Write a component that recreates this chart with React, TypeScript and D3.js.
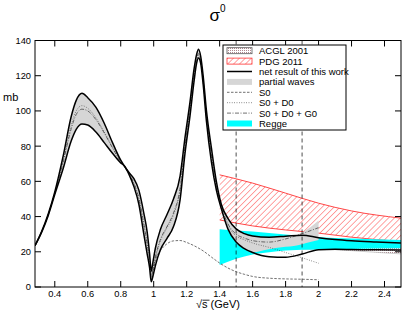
import * as d3 from 'd3';

// sqrt(s) grid for the net result band (GeV) and its edges (mb)
const bandX = [0.28, 0.32, 0.36, 0.40, 0.45, 0.50, 0.53, 0.565, 0.60, 0.65, 0.70, 0.75, 0.80, 0.82, 0.85, 0.88, 0.91, 0.94, 0.96, 0.975, 0.985, 0.995, 1.01, 1.04, 1.08, 1.12, 1.16, 1.19, 1.22, 1.245, 1.26, 1.272, 1.285, 1.30, 1.32, 1.35, 1.38, 1.41, 1.45, 1.5, 1.55, 1.6, 1.7, 1.8, 1.9, 2.0, 2.1, 2.2, 2.35, 2.5];
const bandHi = [23.5, 31.5, 41.5, 54, 74, 97, 106, 110, 107.5, 102, 93, 82, 72, 69, 65, 61.5, 55, 42, 31.5, 19, 9, 14, 22, 32.5, 41, 50, 63, 85, 105, 124, 132, 135, 131, 120, 100, 79, 60, 47, 39, 33, 30.3, 29, 28.3, 28.8, 29.4, 28, 27, 26.3, 25.6, 25];
const bandLo = [23.5, 31, 40.5, 52.5, 67, 83, 89.5, 92.6, 92, 88, 82, 76, 70.5, 69, 64, 57, 47, 30, 19, 11, 3, 6, 12, 21, 27.5, 34.3, 49.5, 76, 97, 117, 127, 130, 127, 115, 94, 71, 55, 44.5, 33, 25.5, 21.8, 19.6, 17.2, 16.9, 18.7, 21.2, 21.4, 21.3, 21.1, 21];

// S0+D0+G0 and S0+D0 run on bandX up to 2.0 GeV
const s0d0g0 = [23.5, 31.2, 41, 53.2, 70.5, 90, 98, 101, 100, 95, 87.5, 79, 71.2, 69, 64.5, 59, 50.5, 36, 25, 15, 6, 10, 17, 26.8, 34.2, 42, 56, 80, 101, 120.5, 129.5, 132.5, 129, 117.5, 97, 75, 57.5, 45.8, 36, 30, 27.8, 26.3, 25.5, 27.3, 30.3, 33.7];
const s0d0 = [23.5, 31.3, 41.2, 53.5, 71.5, 92, 100, 103, 101.5, 96, 88, 79.5, 71.5, 69, 64, 58.5, 50, 35, 24, 14, 6, 9.5, 16, 26, 33.5, 41, 55, 79, 100, 119.5, 128.5, 131.5, 128, 116.5, 96, 74, 57, 45, 35, 29, 26.8, 25, 22.5, 19.6, 16.6, 13.5];

const s0X = [0.99, 1.01, 1.04, 1.08, 1.12, 1.16, 1.2, 1.25, 1.3, 1.35, 1.4, 1.45, 1.5, 1.55, 1.6, 1.7, 1.8, 1.9, 2.0];
const s0Y = [5, 15, 20.5, 24.5, 26.2, 26.4, 25.3, 23.2, 20.5, 17, 13.6, 10.8, 8.7, 7.2, 6.0, 5.0, 4.6, 4.4, 4.1];

// partial-wave band above 1.4 GeV
const pwX = [1.41, 1.45, 1.5, 1.55, 1.6, 1.7, 1.8, 1.85, 1.9, 1.95, 2.0];
const pwHi = [47, 39, 33, 30.3, 29, 28.3, 28.8, 29.2, 31, 34, 37.7];
const pwLo = [44.5, 33, 25.5, 21.8, 19.8, 21.5, 22.8, 23.3, 24.3, 25.5, 26.7];

const reggeX = [1.4, 1.5, 1.6, 1.7, 1.8, 2.0, 2.2, 2.5];
const reggeHi = [32.8, 32.1, 31.5, 30.6, 29.8, 28.3, 27.5, 26.7];
const reggeLo = [12.5, 16, 18.5, 19.8, 20.8, 21.3, 21.6, 22];

const pdgX = [1.4, 1.6, 1.8, 2.0, 2.2, 2.5];
const pdgHi = [63.7, 59, 53.3, 47.6, 43.2, 39.1];
const pdgLo = [38.1, 34.7, 32.4, 30.6, 28.3, 25.8];

const acglX = [1.9, 2.1, 2.3, 2.5];
const acglHi = [25, 24.5, 24, 23.5];
const acglLo = [21.5, 21.2, 20, 18.8];

const cutX = [1.5, 1.9];
const xTicks = [0.4, 0.6, 0.8, 1.0, 1.2, 1.4, 1.6, 1.8, 2.0, 2.2, 2.4];
const yTicks = [0, 20, 40, 60, 80, 100, 120, 140];
const legendLabels = ['ACGL 2001', 'PDG 2011', 'net result of this work', 'partial waves', 'S0', 'S0 + D0', 'S0 + D0 + G0', 'Regge'];

const FONT = '"Liberation Sans", Arial, sans-serif';
const RED = '#ff3333';

export default function App() {
  const left = 35, right = 401, top = 40.5, bottom = 287;
  const x = d3.scaleLinear().domain([0.28, 2.5]).range([left, right]);
  const y = d3.scaleLinear().domain([0, 140]).range([bottom, top]);

  const band = (xs: number[], hi: number[], lo: number[]) =>
    d3.area<number>()
      .x(d => x(xs[d]))
      .y0(d => y(lo[d]))
      .y1(d => y(hi[d]))
      .curve(d3.curveMonotoneX)(d3.range(xs.length)) || '';
  const line = (xs: number[], ys: number[]) =>
    d3.line<number>()
      .x(d => x(xs[d]))
      .y(d => y(ys[d]))
      .curve(d3.curveMonotoneX)(d3.range(ys.length)) || '';

  const cut = bandX.indexOf(1.45);
  const lowX = bandX.slice(0, cut + 1);

  const lx = 227, lw = 25, ly0 = 50.7, ldy = 10.4;

  return (
    <svg width={403} height={315} style={{ position: 'fixed', left: 0, top: 0, background: '#fff' }} fontFamily={FONT}>
      <defs>
        <pattern id="hatch" width="4.2" height="4.2" patternUnits="userSpaceOnUse" patternTransform="rotate(45)">
          <line x1="0" y1="0" x2="0" y2="4.2" stroke={RED} strokeWidth="0.9" />
        </pattern>
        <pattern id="dots" width="2" height="2" patternUnits="userSpaceOnUse">
          <rect width="1" height="1" fill="#b08890" />
        </pattern>
        <clipPath id="plot">
          <rect x={left} y={top} width={right - left} height={bottom - top} />
        </clipPath>
      </defs>

      <g clipPath="url(#plot)">
        <path d={band(acglX, acglHi, acglLo)} fill="url(#dots)" stroke="#999" strokeWidth={0.5} />
        <path d={band(pdgX, pdgHi, pdgLo)} fill="url(#hatch)" />
        <path d={line(pdgX, pdgHi)} fill="none" stroke={RED} strokeWidth={0.9} />
        <path d={line(pdgX, pdgLo)} fill="none" stroke={RED} strokeWidth={0.9} />
        <path d={band(reggeX, reggeHi, reggeLo)} fill="#00ffff" />
        <path d={band(lowX, bandHi, bandLo)} fill="#d6d6d6" />
        <path d={band(pwX, pwHi, pwLo)} fill="#d6d6d6" />
        <path d={line(bandX.slice(0, s0d0.length), s0d0)} fill="none" stroke="#333" strokeWidth={0.7} strokeDasharray="0.8 1.6" />
        <path d={line(bandX.slice(0, s0d0g0.length), s0d0g0)} fill="none" stroke="#333" strokeWidth={0.7} strokeDasharray="4 1.5 1 1.5" />
        <path d={line(s0X, s0Y)} fill="none" stroke="#333" strokeWidth={0.7} strokeDasharray="2.5 1.5" />
        {cutX.map(c => (
          <line key={c} x1={x(c)} x2={x(c)} y1={top} y2={bottom} stroke="#000" strokeWidth={0.7} strokeDasharray="4 3" />
        ))}
        <path d={line(bandX, bandHi)} fill="none" stroke="#000" strokeWidth={1.5} />
        <path d={line(bandX, bandLo)} fill="none" stroke="#000" strokeWidth={1.5} />
      </g>

      {/* frame and ticks */}
      <rect x={left} y={top} width={right - left} height={bottom - top} fill="none" stroke="#000" strokeWidth={1} />
      {xTicks.map(t => (
        <g key={t}>
          <line x1={x(t)} x2={x(t)} y1={bottom} y2={bottom - 6} stroke="#000" />
          <line x1={x(t)} x2={x(t)} y1={top} y2={top + 6} stroke="#000" />
          <text x={x(t)} y={297} fontSize={9.3} textAnchor="middle">{d3.format('~g')(t)}</text>
        </g>
      ))}
      {yTicks.map(t => (
        <g key={t}>
          <line x1={left} x2={left + 6} y1={y(t)} y2={y(t)} stroke="#000" />
          <line x1={right} x2={right - 6} y1={y(t)} y2={y(t)} stroke="#000" />
          <text x={31} y={y(t) + 3.4} fontSize={9.3} textAnchor="end">{t}</text>
        </g>
      ))}

      <text x={3} y={100.5} fontSize={11}>mb</text>
      <text x={196} y={308} fontSize={11}>√s  (GeV)</text>
      <line x1={202.5} x2={209.5} y1={300.2} y2={300.2} stroke="#000" strokeWidth={0.8} />
      <text x={209.5} y={21} fontSize={17}>σ<tspan dy={-9} fontSize={10}>0</tspan></text>

      {/* legend */}
      <rect x={223} y={45} width={123} height={85} fill="#fff" stroke="#000" strokeWidth={1} />
      {legendLabels.map((lab, i) => {
        const cy = ly0 + i * ldy;
        let sw;
        if (i === 0) sw = <rect x={lx} y={cy - 3} width={lw} height={6} fill="url(#dots)" stroke="#555" strokeWidth={0.8} />;
        else if (i === 1) sw = <rect x={lx} y={cy - 3} width={lw} height={6} fill="url(#hatch)" stroke={RED} strokeWidth={0.8} />;
        else if (i === 2) sw = <line x1={lx} x2={lx + lw} y1={cy} y2={cy} stroke="#000" strokeWidth={1.5} />;
        else if (i === 3) sw = <rect x={lx} y={cy - 3} width={lw} height={6} fill="#d6d6d6" />;
        else if (i === 4) sw = <line x1={lx} x2={lx + lw} y1={cy} y2={cy} stroke="#333" strokeWidth={0.7} strokeDasharray="2.5 1.5" />;
        else if (i === 5) sw = <line x1={lx} x2={lx + lw} y1={cy} y2={cy} stroke="#333" strokeWidth={0.7} strokeDasharray="0.8 1.6" />;
        else if (i === 6) sw = <line x1={lx} x2={lx + lw} y1={cy} y2={cy} stroke="#333" strokeWidth={0.7} strokeDasharray="4 1.5 1 1.5" />;
        else sw = <rect x={lx} y={cy - 3} width={lw} height={6} fill="#00ffff" />;
        return (
          <g key={lab}>
            {sw}
            <text x={259} y={cy + 3.4} fontSize={9.5}>{lab}</text>
          </g>
        );
      })}
    </svg>
  );
}
